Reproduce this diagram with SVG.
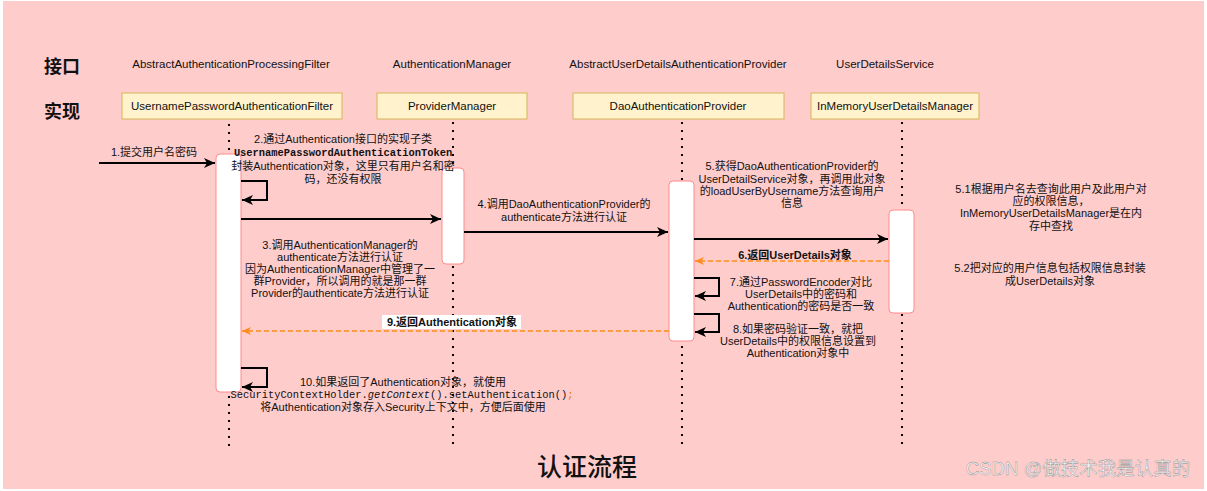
<svg xmlns="http://www.w3.org/2000/svg" width="1207" height="491" viewBox="0 0 1207 491">
<style>
.t{font-family:"Liberation Sans","Noto Sans CJK SC",sans-serif;font-size:11px;fill:#111;text-anchor:middle}
.h{font-size:11.5px}
.b{font-weight:bold}
.m{font-family:"Liberation Mono","Noto Sans CJK SC",monospace;font-size:10.4px}
.big{font-family:"Noto Sans CJK SC","Liberation Sans",sans-serif;font-weight:bold;fill:#111}
.impl{fill:#fff2cc;stroke:#d6b656;stroke-width:1}
.act{fill:#fff;stroke:#ff8a8a;stroke-width:1}
.life{stroke:#000;stroke-width:2;stroke-dasharray:2 6;fill:none}
.msg{stroke:#000;stroke-width:2;fill:none;marker-end:url(#ah)}
.ret{stroke:#ff8c1a;stroke-width:1.5;stroke-dasharray:5 3;fill:none;marker-end:url(#ao)}
</style>
<defs>
<marker id="ah" markerWidth="12" markerHeight="10" refX="11" refY="5" orient="auto" markerUnits="userSpaceOnUse"><path d="M0,0 L11,5 L0,10 L3,5 z" fill="#000"/></marker>
<marker id="ao" markerWidth="10" markerHeight="8" refX="9" refY="4" orient="auto" markerUnits="userSpaceOnUse"><path d="M0,0 L9,4 L0,8 L2.5,4 z" fill="#ff8c1a"/></marker>
</defs>
<rect x="3" y="1" width="1201" height="488" fill="#ffcccc"/>
<text class="big" x="62" y="73" font-size="18" text-anchor="middle">接口</text>
<text class="big" x="62" y="118" font-size="18" text-anchor="middle">实现</text>

<g id="lifelines">
<line class="life" x1="229" y1="124" x2="229" y2="446"/>
<line class="life" x1="453" y1="122" x2="453" y2="446"/>
<line class="life" x1="682" y1="122" x2="682" y2="446"/>
<line class="life" x1="902" y1="122" x2="902" y2="446"/>
</g>

<g id="n1">
<text class="t h" x="231" y="68">AbstractAuthenticationProcessingFilter</text>
<rect class="impl" x="122" y="93" width="220" height="26"/>
<text class="t h" x="232" y="110">UsernamePasswordAuthenticationFilter</text>
<rect class="act" x="216" y="154" width="25" height="238" rx="4"/>
</g>
<g id="n2">
<text class="t h" x="452" y="68">AuthenticationManager</text>
<rect class="impl" x="377" y="93" width="150" height="26"/>
<text class="t h" x="452" y="110">ProviderManager</text>
<rect class="act" x="442" y="168" width="22" height="96" rx="4"/>
</g>
<g id="n3">
<text class="t h" x="678" y="68">AbstractUserDetailsAuthenticationProvider</text>
<rect class="impl" x="573" y="93" width="211" height="26"/>
<text class="t h" x="678" y="110">DaoAuthenticationProvider</text>
<rect class="act" x="669" y="181" width="25" height="160" rx="4"/>
</g>
<g id="n4">
<text class="t h" x="885" y="68">UserDetailsService</text>
<rect class="impl" x="811" y="93" width="168" height="26"/>
<text class="t h" x="895" y="110">InMemoryUserDetailsManager</text>
<rect class="act" x="889" y="210" width="25" height="103" rx="4"/>
</g>

<g id="connectors">
<line class="msg" x1="99" y1="163" x2="215" y2="163"/>
<path class="msg" d="M241,181 H267 V200 H242"/>
<line class="msg" x1="241" y1="219" x2="441" y2="219"/>
<line class="msg" x1="464" y1="232" x2="668" y2="232"/>
<line class="msg" x1="694" y1="239" x2="888" y2="239"/>
<line class="ret" x1="889" y1="261" x2="695" y2="261"/>
<path class="msg" d="M694,278 H719 V296 H695"/>
<path class="msg" d="M694,314 H719 V332 H695"/>
<line class="ret" x1="669" y1="331" x2="242" y2="331"/>
<path class="msg" d="M241,368 H267 V387 H242"/>
</g>

<g id="labels">
<text class="t" x="154" y="156">1.提交用户名密码</text>
<text class="t" x="343" y="143">2.通过Authentication接口的实现子类</text>
<text class="t m b" x="343" y="156">UsernamePasswordAuthenticationToken</text>
<text class="t" x="343" y="170">封装Authentication对象，这里只有用户名和密</text>
<text class="t" x="343" y="183">码，还没有权限</text>

<text class="t" x="340" y="249">3.调用AuthenticationManager的</text>
<text class="t" x="340" y="261">authenticate方法进行认证</text>
<text class="t" x="340" y="273">因为AuthenticationManager中管理了一</text>
<text class="t" x="340" y="285">群Provider，所以调用的就是那一群</text>
<text class="t" x="340" y="297">Provider的authenticate方法进行认证</text>

<text class="t" x="564" y="208">4.调用DaoAuthenticationProvider的</text>
<text class="t" x="564" y="221">authenticate方法进行认证</text>

<text class="t" x="792" y="170">5.获得DaoAuthenticationProvider的</text>
<text class="t" x="792" y="183">UserDetailService对象，再调用此对象</text>
<text class="t" x="792" y="195">的loadUserByUsername方法查询用户</text>
<text class="t" x="792" y="207">信息</text>

<text class="t" x="1051" y="193">5.1根据用户名去查询此用户及此用户对</text>
<text class="t" x="1051" y="205">应的权限信息，</text>
<text class="t" x="1051" y="217">InMemoryUserDetailsManager是在内</text>
<text class="t" x="1051" y="230">存中查找</text>

<text class="t" x="1050" y="272">5.2把对应的用户信息包括权限信息封装</text>
<text class="t" x="1050" y="285">成UserDetails对象</text>

<text class="t b" x="795" y="259">6.返回UserDetails对象</text>

<text class="t" x="801" y="286">7.通过PasswordEncoder对比</text>
<text class="t" x="801" y="298">UserDetails中的密码和</text>
<text class="t" x="801" y="310">Authentication的密码是否一致</text>

<text class="t" x="798" y="333">8.如果密码验证一致，就把</text>
<text class="t" x="798" y="345">UserDetails中的权限信息设置到</text>
<text class="t" x="798" y="357">Authentication对象中</text>

<rect x="382" y="315" width="139" height="14" fill="#fff"/>
<text class="t b" x="452" y="326">9.返回Authentication对象</text>

<text class="t" x="403" y="386">10.如果返回了Authentication对象，就使用</text>
<text class="t m" x="402" y="398">SecurityContextHolder.<tspan font-style="italic">getContext</tspan>().setAuthentication()<tspan fill="#e07b00">;</tspan></text>
<text class="t" x="403" y="411">将Authentication对象存入Security上下文中，方便后面使用</text>
</g>

<text x="587" y="476" font-family="Noto Sans CJK SC,Liberation Sans,sans-serif" font-weight="500" font-size="25" fill="#111" text-anchor="middle">认证流程</text>
<text x="1078" y="475" font-family="Liberation Sans,Noto Sans CJK SC,sans-serif" font-size="18.5" fill="#f6f6f6" stroke="#8a8a8a" stroke-width="0.4" text-anchor="middle">CSDN @做技术我是认真的</text>
</svg>
